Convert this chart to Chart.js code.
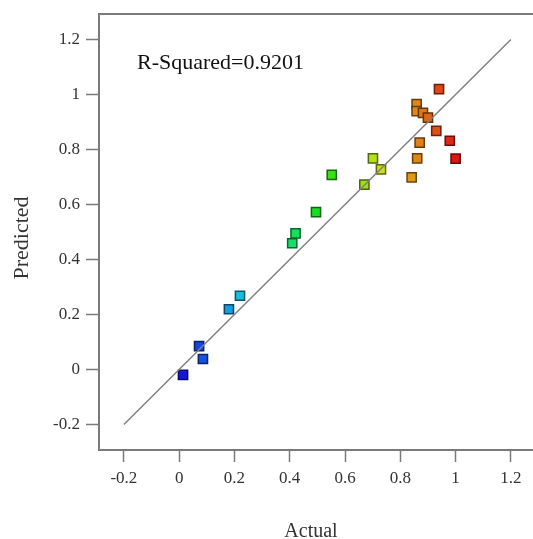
<!DOCTYPE html>
<html>
<head>
<meta charset="utf-8">
<script src="https://cdn.jsdelivr.net/npm/chart.js@4"></script>
<style>
    html, body { margin: 0; padding: 0; background: #fff; }
    #wrap { width: 533px; height: 539px; }
</style>
</head>
<body>
<div id="wrap"><canvas id="grafico" width="533" height="539"></canvas></div>
<script>
// ========== DADOS ==========
const actual    = [0.014, 0.072, 0.086, 0.18, 0.22, 0.409, 0.421, 0.495, 0.552, 0.67, 0.701, 0.73,
                   0.841, 0.861, 0.87, 0.859, 0.859, 0.882, 0.90, 0.94, 0.93, 0.979, 1.0];
const predicted = [-0.02, 0.085, 0.038, 0.219, 0.268, 0.459, 0.495, 0.572, 0.708, 0.672, 0.768, 0.728,
                   0.699, 0.768, 0.825, 0.965, 0.94, 0.933, 0.916, 1.02, 0.868, 0.832, 0.767];
const lineEnds  = [-0.2, 1.2];
const xTicks    = [-0.2, 0, 0.2, 0.4, 0.6, 0.8, 1, 1.2];
const yTicks    = [-0.2, 0, 0.2, 0.4, 0.6, 0.8, 1, 1.2];
const rSquared  = 'R-Squared=0.9201';
const xTitle    = 'Actual';
const yTitle    = 'Predicted';

const fonte = "'Liberation Serif', 'Times New Roman', serif";
const cinza = '#7a7a7a';

// cor do ponto pelo valor real (azul -> vermelho)
const minA = Math.min(...actual), maxA = Math.max(...actual);
function corPonto(v, luz) {
    const t = (v - minA) / (maxA - minA);
    return `hsl(${Math.round(240 * (1 - t))}, 82%, ${luz}%)`;
}

// ========== PLUGIN: moldura e textos ==========
const extras = {
    id: 'extras',
    afterDraw(chart) {
        const { ctx, chartArea } = chart;
        ctx.save();
        // borda superior (sem borda à direita, como no original)
        ctx.strokeStyle = cinza;
        ctx.lineWidth = 2;
        ctx.beginPath();
        ctx.moveTo(chartArea.left, chartArea.top);
        ctx.lineTo(chartArea.right, chartArea.top);
        ctx.stroke();

        ctx.fillStyle = '#111';
        ctx.font = `22px ${fonte}`;
        ctx.textAlign = 'left';
        ctx.textBaseline = 'middle';
        ctx.fillText(rSquared, 137, 63);

        ctx.fillStyle = '#333';
        ctx.font = `20px ${fonte}`;
        ctx.textAlign = 'center';
        ctx.textBaseline = 'alphabetic';
        ctx.fillText(xTitle, 311, 537);

        ctx.font = `22px ${fonte}`;
        ctx.textBaseline = 'middle';
        ctx.translate(22, 238);
        ctx.rotate(-Math.PI / 2);
        ctx.fillText(yTitle, 0, 0);
        ctx.restore();
    }
};

function formatarTick(v) {
    return String(+Number(v).toFixed(1));
}

// ========== CRIAR GRÁFICO ==========
const ctx = document.getElementById('grafico').getContext('2d');
new Chart(ctx, {
    type: 'scatter',
    data: {
        datasets: [
            {
                type: 'line',
                data: lineEnds.map(v => ({ x: v, y: v })),
                borderColor: '#808080',
                borderWidth: 1.5,
                pointRadius: 0,
                order: 0
            },
            {
                data: actual.map((a, i) => ({ x: a, y: predicted[i] })),
                pointStyle: 'rect',
                pointRadius: 6.5,
                pointBorderWidth: 1.5,
                pointBackgroundColor: actual.map(a => corPonto(a, 48)),
                pointBorderColor: actual.map(a => corPonto(a, 22)),
                order: 1
            }
        ]
    },
    options: {
        responsive: false,
        animation: false,
        layout: { autoPadding: false, padding: { top: 14, right: 0, left: 0, bottom: 0 } },
        plugins: {
            legend: { display: false },
            tooltip: { enabled: false }
        },
        scales: {
            x: {
                type: 'linear',
                min: -0.29,
                max: 1.28,
                afterBuildTicks: axis => { axis.ticks = xTicks.map(v => ({ value: v })); },
                afterFit: scale => {
                    scale.height = 89;
                    scale.paddingLeft = 0;
                    scale.paddingRight = 0;
                },
                grid: { drawOnChartArea: false, drawTicks: true, tickLength: 12, tickColor: cinza, tickWidth: 1.5 },
                border: { color: cinza, width: 2 },
                ticks: {
                    callback: formatarTick,
                    color: '#333',
                    padding: 6,
                    maxRotation: 0,
                    font: { family: fonte, size: 17 }
                }
            },
            y: {
                type: 'linear',
                min: -0.293,
                max: 1.293,
                afterBuildTicks: axis => { axis.ticks = yTicks.map(v => ({ value: v })); },
                afterFit: scale => {
                    scale.width = 99;
                    scale.paddingTop = 0;
                    scale.paddingBottom = 0;
                },
                grid: { drawOnChartArea: false, drawTicks: true, tickLength: 13, tickColor: cinza, tickWidth: 1.5 },
                border: { color: cinza, width: 2 },
                ticks: {
                    callback: formatarTick,
                    color: '#333',
                    padding: 6,
                    font: { family: fonte, size: 17 }
                }
            }
        }
    },
    plugins: [extras]
});
</script>
</body>
</html>
